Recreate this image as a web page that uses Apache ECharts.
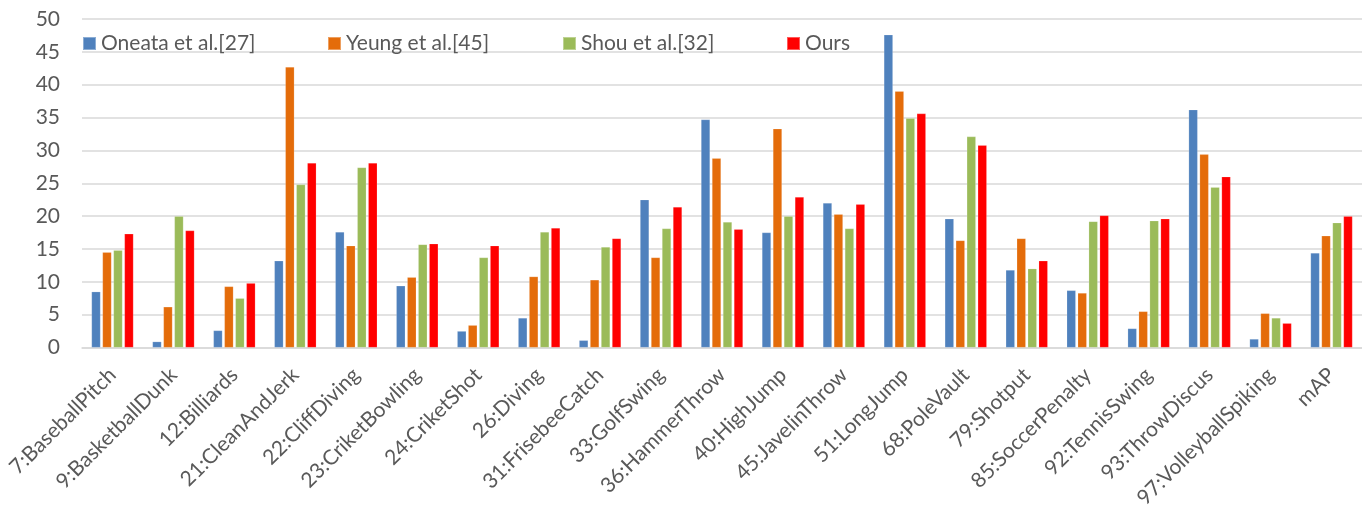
<!DOCTYPE html>
<html>
<head>
<meta charset="utf-8">
<script src="https://cdn.jsdelivr.net/npm/echarts@6/dist/echarts.min.js"></script>
<style>
  html, body { margin: 0; padding: 0; background: #ffffff; }
  #chart { width: 1362px; height: 511px; }
</style>
</head>
<body>
<div id="chart"></div>
<script>
// Per-class AP on THUMOS'14 action classes, plus the mean (mAP)
const categories = [
  '7:BaseballPitch', '9:BasketballDunk', '12:Billiards', '21:CleanAndJerk',
  '22:CliffDiving', '23:CriketBowling', '24:CriketShot', '26:Diving',
  '31:FrisebeeCatch', '33:GolfSwing', '36:HammerThrow', '40:HighJump',
  '45:JavelinThrow', '51:LongJump', '68:PoleVault', '79:Shotput',
  '85:SoccerPenalty', '92:TennisSwing', '93:ThrowDiscus', '97:VolleyballSpiking', 'mAP'
];

const seriesNames = ['Oneata et al.[27]', 'Yeung et al.[45]', 'Shou et al.[32]', 'Ours'];

const oneata = [8.5, 0.9, 2.6, 13.2, 17.6, 9.4, 2.5, 4.5, 1.1, 22.5, 34.7, 17.5, 22.0, 47.6, 19.6, 11.8, 8.7, 2.9, 36.2, 1.3, 14.4];
const yeung  = [14.5, 6.2, 9.3, 42.7, 15.5, 10.7, 3.4, 10.8, 10.3, 13.7, 28.8, 33.3, 20.3, 39.0, 16.3, 16.6, 8.3, 5.5, 29.4, 5.2, 17.0];
const shou   = [14.8, 20.0, 7.5, 24.8, 27.4, 15.7, 13.7, 17.6, 15.3, 18.1, 19.1, 20.0, 18.1, 34.9, 32.1, 12.0, 19.2, 19.3, 24.4, 4.5, 19.0];
const ours   = [17.3, 17.8, 9.8, 28.1, 28.1, 15.8, 15.5, 18.2, 16.6, 21.4, 18.0, 22.9, 21.8, 35.6, 30.8, 13.2, 20.1, 19.6, 26.0, 3.7, 20.0];

const yTicks = { min: 0, max: 50, interval: 5 };

const colors = ['#4F81BD', '#E46C0A', '#9BBB59', '#FF0000'];
const FONT = 'Lato, "Open Sans", sans-serif';
const TEXT_COLOR = '#595959';

const values = [oneata, yeung, shou, ours];
const legendLefts = [82, 327, 562, 786];

const chart = echarts.init(document.getElementById('chart'), null, { renderer: 'canvas' });

chart.setOption({
  animation: false,
  backgroundColor: '#ffffff',
  textStyle: { fontFamily: FONT },
  color: colors,
  legend: seriesNames.map((name, i) => ({
    data: [name],
    left: legendLefts[i],
    top: 33,
    itemWidth: 13,
    itemHeight: 13,
    itemGap: 0,
    icon: 'rect',
    padding: 0,
    textStyle: { fontFamily: FONT, fontSize: 21, color: TEXT_COLOR, padding: [0, 0, 0, 0] }
  })),
  grid: { left: 82, right: 0, top: 19, bottom: 163, containLabel: false },
  xAxis: {
    type: 'category',
    data: categories,
    axisLine: { show: true, lineStyle: { color: '#D9D9D9', width: 1.5 } },
    axisTick: { show: false },
    axisLabel: {
      interval: 0,
      rotate: 45,
      margin: 24,
      fontFamily: FONT,
      fontSize: 21,
      color: TEXT_COLOR
    }
  },
  yAxis: {
    type: 'value',
    min: yTicks.min,
    max: yTicks.max,
    interval: yTicks.interval,
    axisLine: { show: false },
    axisTick: { show: false },
    axisLabel: { margin: 22, fontFamily: FONT, fontSize: 21, color: TEXT_COLOR },
    splitLine: { show: true, lineStyle: { color: '#D9D9D9', width: 1.5 } }
  },
  series: seriesNames.map((name, i) => ({
    name: name,
    type: 'bar',
    data: values[i],
    barWidth: 9,
    barGap: '22%',
    itemStyle: { color: colors[i], borderColor: 'rgba(255,255,255,0.35)', borderWidth: 0.5 }
  }))
});
</script>
</body>
</html>
